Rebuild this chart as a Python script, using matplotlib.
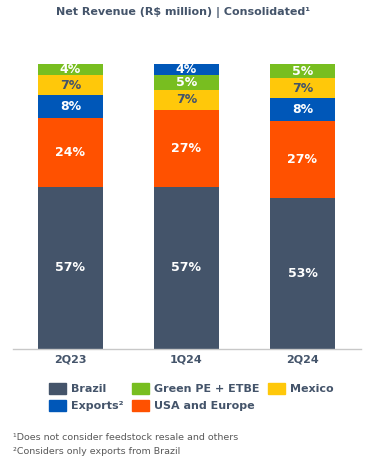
import matplotlib.pyplot as plt
from matplotlib.patches import Patch

# Net revenue share by region (%)
periods = ['2Q23', '1Q24', '2Q24']
brazil = [57, 57, 53]
usa_europe = [24, 27, 27]
exports = [8, 4, 8]
mexico = [7, 7, 7]
green_pe = [4, 5, 5]

# stacking order (bottom to top) per period
stack_order = [
    ['Brazil', 'USA and Europe', 'Exports', 'Mexico', 'Green PE + ETBE'],
    ['Brazil', 'USA and Europe', 'Mexico', 'Green PE + ETBE', 'Exports'],
    ['Brazil', 'USA and Europe', 'Exports', 'Mexico', 'Green PE + ETBE'],
]

series = {
    'Brazil': brazil,
    'USA and Europe': usa_europe,
    'Exports': exports,
    'Mexico': mexico,
    'Green PE + ETBE': green_pe,
}
colors = {
    'Brazil': '#44546A',
    'USA and Europe': '#FF5100',
    'Exports': '#0057B8',
    'Mexico': '#FFC80A',
    'Green PE + ETBE': '#78BE20',
}
label_colors = {
    'Brazil': 'white',
    'USA and Europe': 'white',
    'Exports': 'white',
    'Mexico': '#44546A',
    'Green PE + ETBE': 'white',
}
text_gray = '#44546A'

fig = plt.figure(figsize=(3.73, 4.71), dpi=100)
ax = fig.add_axes([12.5 / 373, 122 / 471, 348 / 373, 285 / 471])

for i, order in enumerate(stack_order):
    bottom = 0
    for name in order:
        v = series[name][i]
        ax.bar(i, v, bottom=bottom, width=0.56, color=colors[name], linewidth=0)
        ax.text(i, bottom + v / 2, f'{v}%', ha='center', va='center',
                color=label_colors[name], fontsize=9, fontweight='bold')
        bottom += v

ax.set_xlim(-0.5, 2.5)
ax.set_ylim(0, 100)
ax.set_xticks(range(len(periods)))
ax.set_xticklabels(periods, fontsize=8, fontweight='bold', color=text_gray)
ax.tick_params(axis='x', length=0, pad=4)
ax.set_yticks([])
for s in ['top', 'right', 'left']:
    ax.spines[s].set_visible(False)
ax.spines['bottom'].set_color('#C8C8C8')
ax.spines['bottom'].set_linewidth(1)

fig.text(0.49, 1 - 12 / 471, 'Net Revenue (R$ million) | Consolidated\u00b9',
         ha='center', va='center', fontsize=8, fontweight='bold', color=text_gray)

handles = [
    Patch(color=colors['Brazil'], label='Brazil'),
    Patch(color=colors['Exports'], label='Exports\u00b2'),
    Patch(color=colors['Green PE + ETBE'], label='Green PE + ETBE'),
    Patch(color=colors['USA and Europe'], label='USA and Europe'),
    Patch(color=colors['Mexico'], label='Mexico'),
]
leg = fig.legend(handles=handles, ncol=3, loc='center', bbox_to_anchor=(0.513, 1 - 397 / 471),
                 frameon=False, prop={'weight': 'bold', 'size': 8},
                 handlelength=1.5, handleheight=1.1, handletextpad=0.45,
                 columnspacing=0.8, labelspacing=0.55)
for t in leg.get_texts():
    t.set_color(text_gray)

fig.text(13 / 373, 1 - 438 / 471, '\u00b9Does not consider feedstock resale and others',
         ha='left', va='center', fontsize=6.8, color='#595959')
fig.text(13 / 373, 1 - 452 / 471, '\u00b2Considers only exports from Brazil',
         ha='left', va='center', fontsize=6.8, color='#595959')

fig.savefig('out.png', dpi=100)
